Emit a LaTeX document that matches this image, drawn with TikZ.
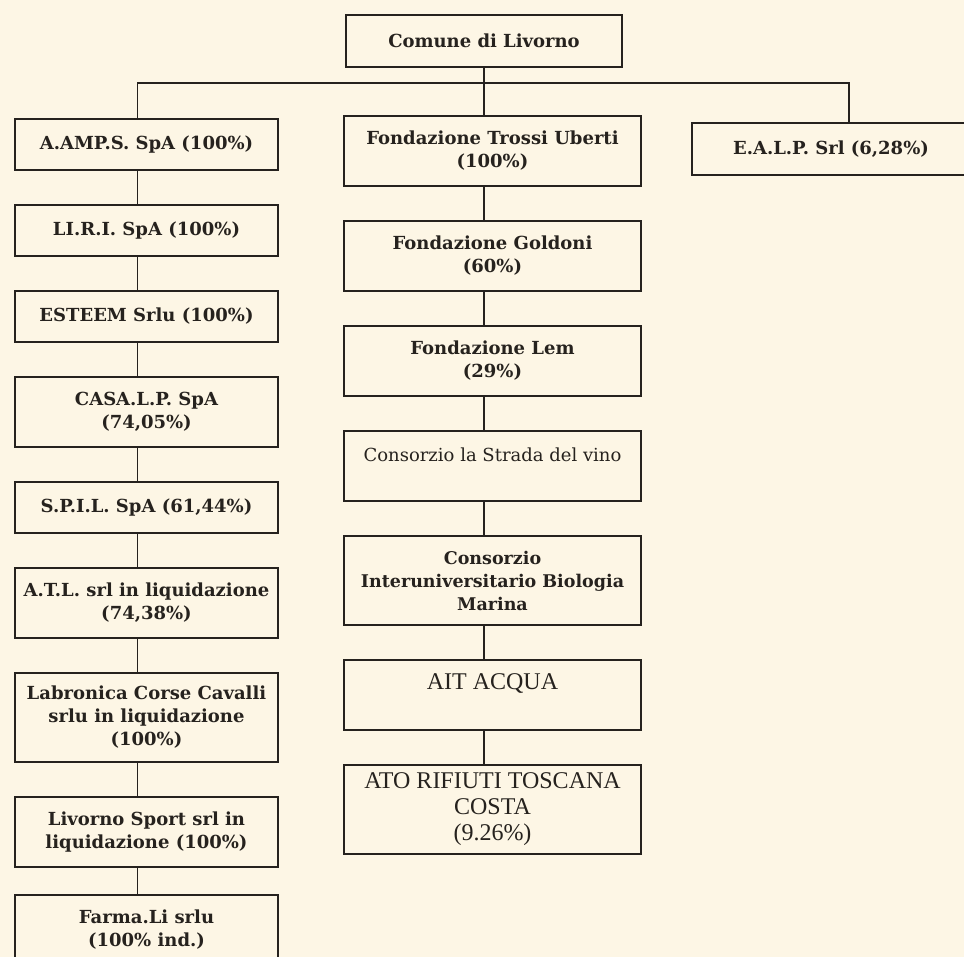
\documentclass[tikz,border=0pt]{standalone}
\usepackage{fontspec}
\setmainfont{DejaVu Serif}
\newfontfamily\romanfont{Liberation Serif}
\usepackage{tikz}
\usetikzlibrary{positioning}
\definecolor{paper}{RGB}{253,246,229}
\definecolor{ink}{RGB}{38,34,30}

\begin{document}
\begin{tikzpicture}[
  font=\fontsize{18}{23}\selectfont\bfseries,
  node distance=35pt,
  bx/.style={draw=ink, line width=1.6pt, outer sep=0pt, inner sep=2pt, align=center, text=ink, minimum height=51pt},
  lbox/.style={bx, minimum width=263pt},
  mbox/.style={bx, minimum width=297pt, minimum height=70pt},
  tall2/.style={minimum height=70pt},
  tall3/.style={minimum height=89pt},
  plain/.style={font=\fontsize{18}{23}\selectfont},
  caps/.style={font=\romanfont\fontsize{24}{26}\selectfont},
  link/.style={draw=ink, line width=1.6pt}
]
\useasboundingbox (0,0) rectangle (964pt,-957pt);
\clip (0,0) rectangle (964pt,-957pt);
\fill[paper] (0,0) rectangle (964pt,-957pt);

\node[bx, minimum width=276pt, minimum height=52pt] (comune) at (484pt,-41pt) {Comune di Livorno};

\node[lbox] (aamps) at (146.5pt,-144.5pt) {A.AMP.S. SpA (100\%)};
\node[lbox, below=of aamps] (liri) {LI.R.I. SpA (100\%)};
\node[lbox, below=of liri] (esteem) {ESTEEM Srlu (100\%)};
\node[lbox, tall2, below=of esteem] (casalp) {CASA.L.P. SpA\\(74,05\%)};
\node[lbox, below=of casalp] (spil) {S.P.I.L. SpA (61,44\%)};
\node[lbox, tall2, below=of spil] (atl) {A.T.L. srl in liquidazione\\(74,38\%)};
\node[lbox, tall3, below=of atl] (labronica) {Labronica Corse Cavalli\\srlu in liquidazione\\(100\%)};
\node[lbox, tall2, below=of labronica] (livsport) {Livorno Sport srl in\\liquidazione (100\%)};
\node[lbox, tall2, below=28pt of livsport] (farmali) {Farma.Li srlu\\(100\% ind.)};

\node[mbox] (trossi) at (492.5pt,-151pt) {Fondazione Trossi Uberti\\(100\%)};
\node[mbox, below=of trossi] (goldoni) {Fondazione Goldoni\\(60\%)};
\node[mbox, below=of goldoni] (lem) {Fondazione Lem\\(29\%)};
\node[mbox, plain, below=of lem] (strada) {Consorzio la Strada del vino\\\mbox{}};
\node[mbox, tall3, below=of strada, font=\fontsize{17.5}{23}\selectfont\bfseries] (biologia) {Consorzio\\Interuniversitario Biologia\\Marina};
\node[mbox, caps, below=of biologia] (ait) {AIT ACQUA\\\mbox{}};
\node[mbox, tall3, caps, below=of ait] (ato) {ATO RIFIUTI TOSCANA\\COSTA\\(9.26\%)};

\node[bx, minimum width=278pt, minimum height=52pt] (ealp) at (831pt,-149pt) {E.A.L.P. Srl (6,28\%)};

\coordinate (bus) at (0,-83pt);
\coordinate (lspine) at ([xshift=-9pt]aamps.north);
\coordinate (rspine) at ([xshift=18pt]ealp.north);
\draw[link] (comune.south) -- (comune.south |- trossi.north);
\draw[link] (lspine) |- (rspine |- bus) -- (rspine);
\foreach \a/\b in {aamps/liri, liri/esteem, esteem/casalp, casalp/spil, spil/atl, atl/labronica, labronica/livsport, livsport/farmali}
  \draw[link] ([xshift=-9pt]\a.south) -- ([xshift=-9pt]\b.north);
\foreach \a/\b in {trossi/goldoni, goldoni/lem, lem/strada, strada/biologia, biologia/ait, ait/ato}
  \draw[link] ([xshift=-8.5pt]\a.south) -- ([xshift=-8.5pt]\b.north);
\end{tikzpicture}
\end{document}
